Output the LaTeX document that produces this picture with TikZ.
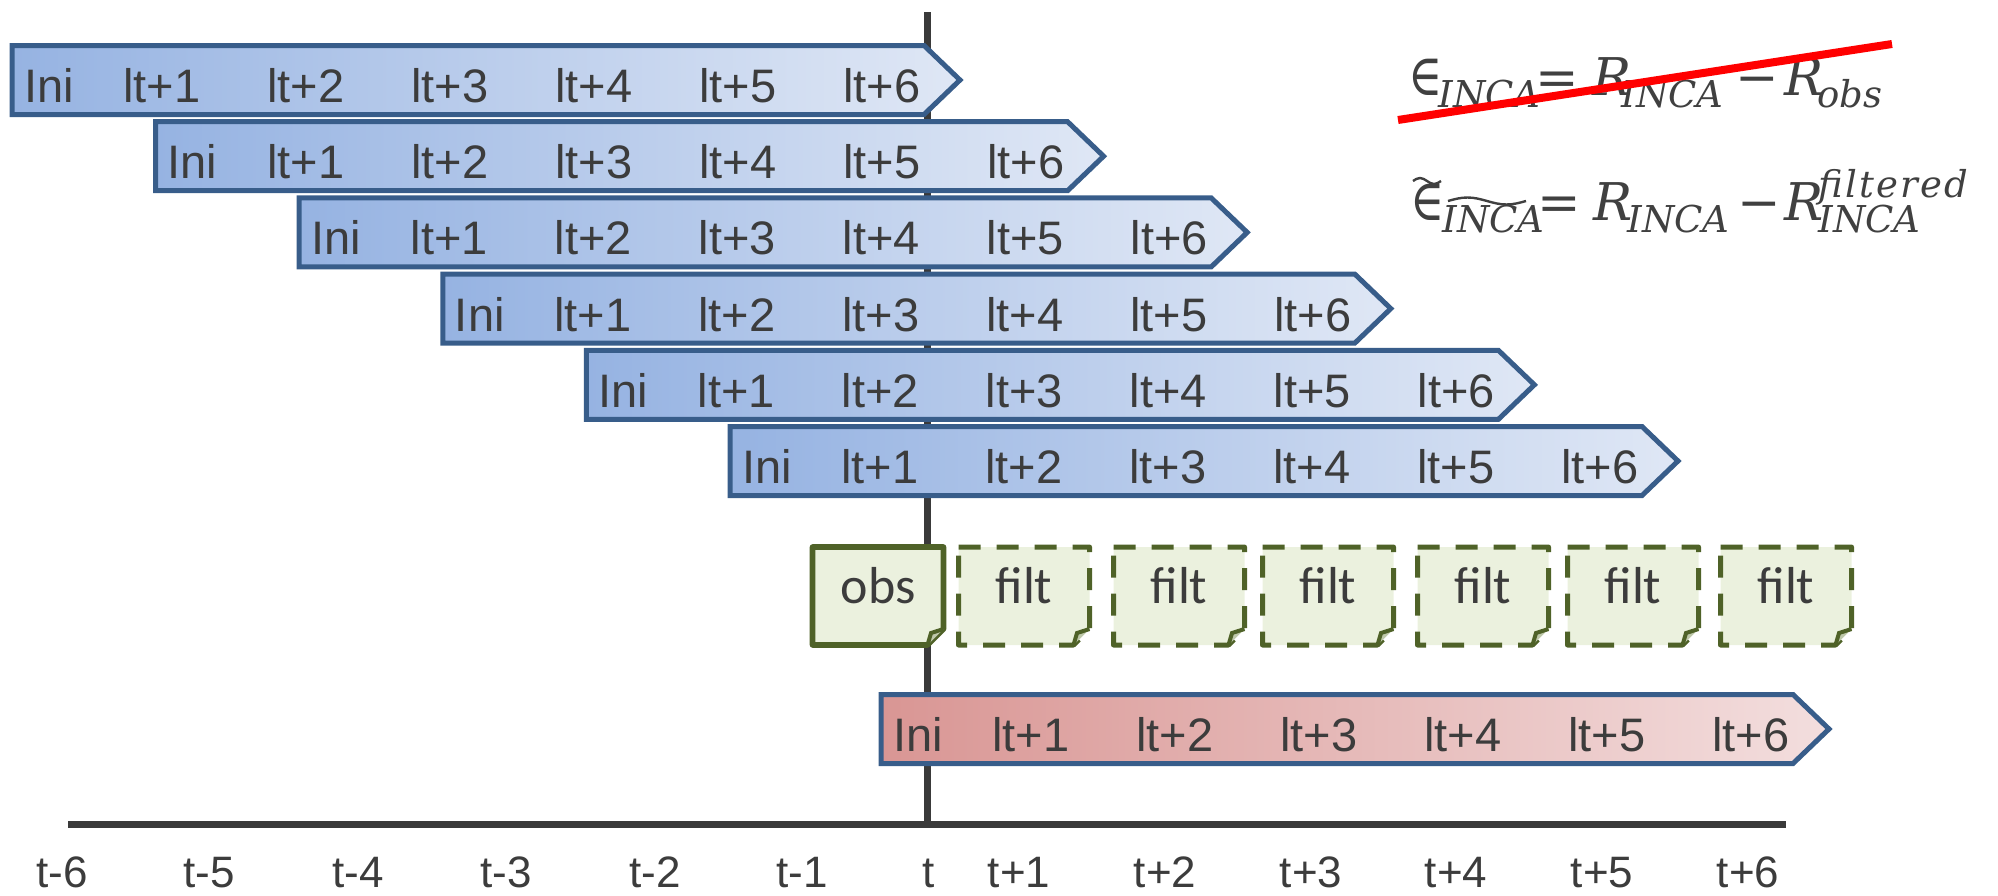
\documentclass[tikz,border=0pt]{standalone}
\usepackage{fontspec}
\setmainfont{Liberation Sans}
\newfontfamily\calfont{Carlito}
\newfontfamily\eqfont{DejaVu Serif}
\newfontfamily\eqspfont{DejaVu Serif}[LetterSpace=6]
\newfontfamily\eqnarrow{DejaVu Serif}[FakeStretch=0.8]
\definecolor{bordblue}{RGB}{56,93,138}
\definecolor{blueL}{RGB}{150,179,226}
\definecolor{blueR}{RGB}{223,231,245}
\definecolor{redL}{RGB}{217,150,148}
\definecolor{redR}{RGB}{243,222,222}
\definecolor{olive}{RGB}{79,98,40}
\definecolor{palegreen}{RGB}{235,241,222}
\definecolor{foldgreen}{RGB}{190,200,170}
\definecolor{txt}{RGB}{60,60,60}
\definecolor{axiscol}{RGB}{58,58,58}
\definecolor{mathcol}{RGB}{64,64,64}
\begin{document}
\begin{tikzpicture}[x=0.5pt,y=-0.5pt,
  axisline/.style={draw=axiscol,line width=3.5pt},
  bluearrow/.style={draw=bordblue,line width=2.5pt,line join=miter,left color=blueL,right color=blueR},
  redarrow/.style={draw=bordblue,line width=2.5pt,line join=miter,left color=redL,right color=redR},
  lbl/.style={text=txt,font=\fontsize{23.5}{28}\selectfont,inner sep=0pt,anchor=base},
  ticklbl/.style={text=txt,font=\fontsize{22}{26}\selectfont,inner sep=0pt,anchor=base},
  obsbox/.style={draw=olive,fill=palegreen,line width=2.8pt,line join=round},
  filtbox/.style={draw=olive,fill=palegreen,line width=2.5pt,line join=round,dash pattern=on 11pt off 8pt},
  boxlbl/.style={text=txt,font=\calfont\fontsize{26}{31}\selectfont,inner sep=0pt,anchor=base},
  eqmain/.style={text=mathcol,font=\eqfont\itshape\fontsize{26}{31}\selectfont,inner sep=0pt,anchor=base west},
  eqsub/.style={text=mathcol,font=\eqfont\itshape\fontsize{18.5}{22}\selectfont,inner sep=0pt,anchor=base west},
  eqsup/.style={text=mathcol,font=\eqspfont\itshape\fontsize{18.5}{22}\selectfont,inner sep=0pt,anchor=base west},
  eqsym/.style={text=mathcol,font=\eqnarrow\fontsize{29}{34}\selectfont,inner sep=0pt,anchor=base west},
  eqop/.style={text=mathcol,font=\eqfont\fontsize{26}{31}\selectfont,inner sep=0pt,anchor=base west},
  tildeline/.style={draw=mathcol,line width=1.2pt}]
\useasboundingbox (0,0) rectangle (1998,895);

% time axis and "now" line
\coordinate (vtop) at (927,12);
\coordinate (vbot) at (927,824);
\coordinate (aL) at (68,824);
\coordinate (aR) at (1786,824);
\draw[axisline] (vtop) -- (vbot);
\draw[axisline] (aL) -- (aR);

% blue forecast arrows
\foreach \k in {0,...,5} {
  \pgfmathsetmacro\L{12+143.6*\k}
  \pgfmathsetmacro\T{45.5+76.2*\k}
  \draw[bluearrow] (\L,\T) -- ++(912,0) -- ++(36,34.5) -- ++(-36,34.5) -- ++(-912,0) -- cycle;
  \node[lbl] (r\k-0) at (\L+37,\T+57) {Ini};
  \foreach \j in {1,...,6} {
    \node[lbl] (r\k-\j) at (\L+150+144*\j-144,\T+57) {lt+\j};
  }
}

% red forecast arrow
\draw[redarrow] (881,694.5) -- ++(912,0) -- ++(36,34.5) -- ++(-36,34.5) -- ++(-912,0) -- cycle;
\node[lbl] (red-0) at (918,751.5) {Ini};
\foreach \j in {1,...,6} {
  \node[lbl] (red-\j) at (1031+144*\j-144,751.5) {lt+\j};
}

% obs and filt boxes
\def\notebox#1#2{%
  \draw[#2] (#1-65.5,547) -- (#1+65.5,547) -- (#1+65.5,629) -- (#1+49.5,645) -- (#1-65.5,645) -- cycle;
  \fill[foldgreen] (#1+65.5,629) -- (#1+53,633) -- (#1+49.5,645) -- cycle;
  \draw[olive,line width=2pt] (#1+65.5,629) -- (#1+53,633) -- (#1+49.5,645);
}
\notebox{878}{obsbox}
\node[boxlbl] (obs) at (878,603) {obs};
\foreach \c [count=\i] in {1024,1179,1328,1483,1633,1786} {
  \notebox{\c}{filtbox}
  \node[boxlbl] (filt\i) at (\c,603) {filt};
}

% time labels
\foreach \x/\t [count=\i] in {62/t-6,209/t-5,358/t-4,506/t-3,655/t-2,802/t-1,929/t,1019/t+1,1165/t+2,1311/t+3,1456/t+4,1602/t+5,1748/t+6} {
  \node[ticklbl] (tick\i) at (\x,887) {\t};
}

% formula 1 (struck out)
\node[eqsym]  (e1a) at (1408,95) {∈};
\node[eqsub]  (e1b) at (1438,107) {INCA};
\node[eqop]   (e1c) at (1535,95) {=};
\node[eqmain] (e1d) at (1592,95) {R};
\node[eqsub]  (e1e) at (1621,107) {INCA};
\node[eqop]   (e1f) at (1735,95) {−};
\node[eqmain] (e1g) at (1784,95) {R};
\node[eqsub]  (e1h) at (1817,107) {obs};
\coordinate (strikeA) at (1398,120);
\coordinate (strikeB) at (1892,44);
\draw[red,line width=4pt] (strikeA) -- (strikeB);

% formula 2
\node[eqsym]  (e2a) at (1410,220) {∈};
\draw[tildeline] (1413,181) sin (1420,178) cos (1427,181) sin (1434,184) cos (1441,181);
\node[eqsub]  (e2b) at (1442,232) {INCA};
\draw[tildeline] (1448,201) sin (1467.5,197.5) cos (1487,201) sin (1506.5,204.5) cos (1526,201);
\node[eqop]   (e2c) at (1537,220) {=};
\node[eqmain] (e2d) at (1593,220) {R};
\node[eqsub]  (e2e) at (1627,232) {INCA};
\node[eqop]   (e2f) at (1737,220) {−};
\node[eqmain] (e2g) at (1784,220) {R};
\node[eqsup]  (e2h) at (1818,197) {filtered};
\node[eqsub]  (e2i) at (1818,232) {INCA};
\end{tikzpicture}
\end{document}
